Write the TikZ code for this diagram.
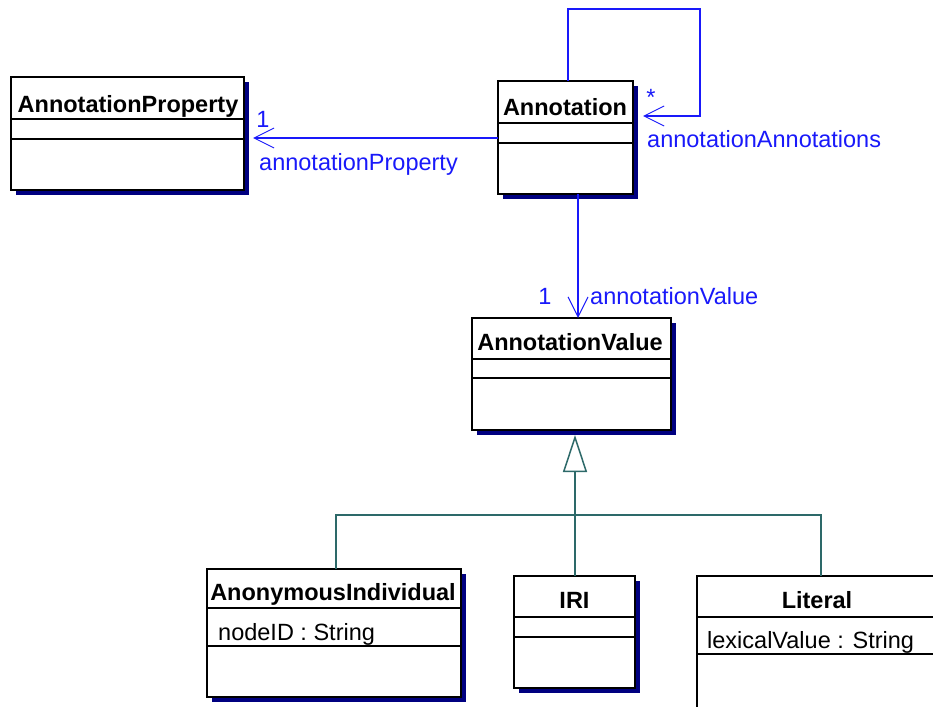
\documentclass[tikz,border=0pt]{standalone}
\usepackage{fontspec}
\setmainfont{Liberation Sans}
\usetikzlibrary{arrows.meta,shadows,calc}
\definecolor{shadowc}{RGB}{0,0,128}
\definecolor{assocc}{RGB}{25,25,250}
\definecolor{genc}{RGB}{45,105,105}
\tikzset{
  cls/.style={draw=black, line width=1.2pt, fill=white, inner sep=0pt, outer sep=0pt, anchor=north west,
    drop shadow={shadow xshift=5pt, shadow yshift=-5pt, fill=shadowc, opacity=1}},
  cline/.style={draw=black, line width=1.2pt},
  hdr/.style={font=\fontsize{23.5}{28}\selectfont\bfseries, inner sep=0pt, anchor=base},
  attr/.style={font=\fontsize{23.5}{28}\selectfont, inner sep=0pt, anchor=base west},
  lbl/.style={font=\fontsize{23.5}{28}\selectfont, text=assocc, inner sep=0pt},
  assoc/.style={draw=assocc, line width=1.5pt, -{Straight Barb[length=20pt, width=20pt, line width=1pt]}},
  gen/.style={draw=genc, line width=1.6pt},
}
\begin{document}
\begin{tikzpicture}[x=1pt, y=-1pt]
\useasboundingbox (0,0) rectangle (933,706);
\clip (0,0) rectangle (933,706);
\fill[white] (0,0) rectangle (933,706);

% classes
\node[cls, minimum width=233pt, minimum height=113pt] (ap) at (11,77) {};
\draw[cline] (ap.west |- 0,119) -- (ap.east |- 0,119);
\draw[cline] (ap.west |- 0,139) -- (ap.east |- 0,139);
\node[hdr] (apt) at (128,113) {AnnotationProperty};

\node[cls, minimum width=135pt, minimum height=113pt] (ann) at (498,81) {};
\draw[cline] (ann.west |- 0,123) -- (ann.east |- 0,123);
\draw[cline] (ann.west |- 0,143) -- (ann.east |- 0,143);
\node[hdr] (annt) at (565,115) {Annotation};

\node[cls, minimum width=199pt, minimum height=112pt] (av) at (472,318) {};
\draw[cline] (av.west |- 0,359) -- (av.east |- 0,359);
\draw[cline] (av.west |- 0,378) -- (av.east |- 0,378);
\node[hdr] (avt) at (570,350) {AnnotationValue};

\node[cls, minimum width=254pt, minimum height=128pt] (ai) at (207,569) {};
\draw[cline] (ai.west |- 0,608) -- (ai.east |- 0,608);
\draw[cline] (ai.west |- 0,646) -- (ai.east |- 0,646);
\node[hdr] (ait) at (333,600) {AnonymousIndividual};
\node[attr] (aia) at (218,640) {nodeID : String};

\node[cls, minimum width=121pt, minimum height=112pt] (iri) at (514,576) {};
\draw[cline] (iri.west |- 0,617) -- (iri.east |- 0,617);
\draw[cline] (iri.west |- 0,637) -- (iri.east |- 0,637);
\node[hdr] (irit) at (574.5,608) {IRI};

\node[cls, minimum width=240pt, minimum height=145pt] (lit) at (697,576) {};
\draw[cline] (lit.west |- 0,617) -- (lit.east |- 0,617);
\draw[cline] (lit.west |- 0,654) -- (lit.east |- 0,654);
\node[hdr] (litt) at (817,608) {Literal};
\node[attr] (lita) at (707,648) {lexicalValue : String};

% associations
\draw[assoc, shorten >=9pt] (ann.west |- 0,138) -- (ap.east |- 0,138);
\node[lbl, anchor=base] (m1) at (263,128) {1};
\node[lbl, anchor=base west] (r1) at (259,170) {annotationProperty};

\coordinate (lp) at (700,9);
\draw[assoc, shorten >=10pt] (ann.north -| 568,0) |- (lp) |- (ann.east |- 0,116);
\node[lbl, anchor=base] (m2) at (651,106) {*};
\node[lbl, anchor=base west] (r2) at (647,147) {annotationAnnotations};

\draw[assoc] (ann.south -| 578,0) -- (av.north -| 578,0);
\node[lbl, anchor=base] (m3) at (545,304) {1};
\node[lbl, anchor=base west] (r3) at (590,304) {annotationValue};

% generalization
\coordinate (j) at (575,515);
\draw[gen, -{Triangle[open, length=37pt, width=24pt, line width=1.5pt, fill=white]}, shorten >=5pt] (j) -- (av.south -| j);
\draw[gen] (ai.north -| 336,0) |- (j) -| (lit.north -| 821,0);
\draw[gen] (j) -- (iri.north -| j);
\end{tikzpicture}
\end{document}
